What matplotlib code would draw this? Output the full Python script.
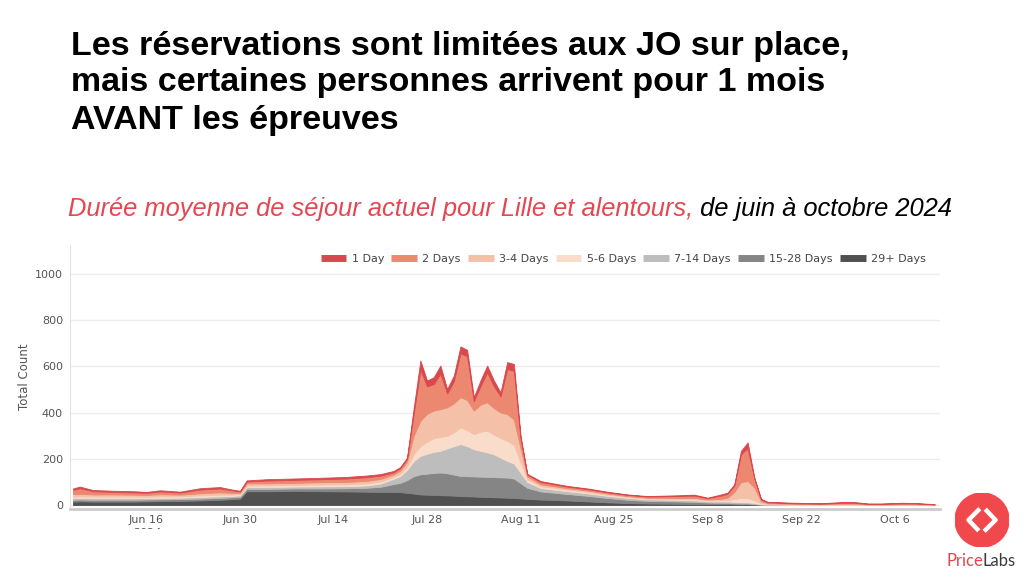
import matplotlib
matplotlib.use("Agg")
import matplotlib.pyplot as plt
from matplotlib.lines import Line2D
from matplotlib.patches import Circle
from matplotlib.transforms import Bbox, TransformedBbox
import pandas as pd

# days after 2024-06-05 at which the values below were read
day_offsets = [0, 1, 3, 6, 9, 11, 13, 16, 19, 22, 24, 25,
               26, 29, 33, 37, 41, 44, 46, 48, 49, 50, 51,
               52, 53, 54, 55, 56, 57, 58, 59, 60, 61, 62, 63, 64, 65, 66, 67, 68,
               70, 74, 77, 80, 83, 86, 90, 93, 95, 97, 98, 99, 100, 101, 102, 103, 104,
               108, 112, 115, 117, 119, 121, 124, 126, 129]

d29_plus = [15, 16, 15, 15, 15, 16, 17, 18, 20, 23, 26, 28,
            60, 60, 61, 60, 59, 58, 57, 57, 56, 53, 50,
            46, 45, 44, 43, 42, 41, 39, 38, 37, 36, 35, 34, 33, 32, 31, 29, 27,
            24, 20, 16, 12, 9, 7, 6, 5, 4, 4, 4, 3, 3, 3, 2, 1, 1,
            0, 0, 0, 0, 0, 0, 0, 0, 0]
d15_28 = [8, 8, 8, 8, 8, 8, 8, 8, 8, 8, 8, 8,
          10, 10, 11, 12, 14, 17, 22, 34, 40, 55, 75,
          87, 91, 95, 98, 96, 91, 87, 87, 87, 87, 87, 87, 87, 87, 84, 66, 48,
          35, 28, 24, 19, 14, 11, 10, 9, 7, 6, 6, 5, 4, 4, 3, 1, 1,
          1, 0, 1, 1, 0, 0, 0, 0, 0]
d7_14 = [7, 7, 7, 7, 7, 6, 6, 6, 7, 7, 6, 6,
         8, 8, 8, 9, 9, 10, 14, 23, 30, 45, 65,
         80, 86, 91, 94, 107, 123, 138, 130, 118, 112, 106, 99, 85, 72, 65, 45, 25,
         15, 12, 11, 9, 8, 7, 7, 7, 5, 6, 6, 6, 6, 5, 4, 2, 1,
         1, 1, 1, 1, 1, 1, 1, 1, 0]
d5_6 = [7, 7, 7, 7, 7, 6, 7, 6, 7, 7, 6, 5,
        7, 7, 7, 8, 8, 9, 9, 8, 10, 14, 30,
        43, 53, 60, 60, 55, 60, 72, 70, 65, 83, 94, 85, 85, 87, 80, 45, 12,
        8, 7, 6, 5, 4, 3, 4, 5, 4, 5, 6, 12, 18, 18, 12, 4, 2,
        1, 1, 1, 1, 1, 1, 1, 1, 1]
d3_4 = [10, 11, 9, 9, 8, 8, 9, 7, 9, 10, 7, 6,
        9, 9, 9, 10, 10, 11, 11, 10, 14, 20, 80,
        109, 120, 119, 120, 123, 125, 131, 130, 102, 117, 123, 115, 111, 116, 110, 60, 12,
        8, 6, 6, 5, 4, 4, 4, 5, 4, 6, 10, 30, 68, 74, 55, 8, 3,
        2, 2, 3, 3, 1, 1, 2, 2, 1]
d2 = [19, 24, 14, 11, 10, 9, 12, 9, 16, 17, 10, 6,
      8, 12, 13, 13, 15, 16, 14, 10, 10, 13, 95,
      221, 119, 115, 154, 60, 95, 190, 189, 40, 80, 129, 95, 69, 195, 211, 43, 8,
      10, 7, 6, 5, 5, 5, 8, 10, 6, 14, 17, 28, 121, 142, 38, 8, 4,
      3, 2, 4, 4, 2, 2, 3, 3, 1]
d1 = [6, 7, 5, 5, 5, 4, 5, 4, 6, 6, 3, 3,
      5, 6, 6, 6, 7, 7, 7, 6, 5, 5, 25,
      40, 25, 30, 35, 20, 25, 30, 28, 18, 25, 30, 25, 18, 30, 30, 12, 3,
      4, 3, 3, 3, 2, 2, 3, 4, 2, 5, 5, 6, 15, 25, 5, 3, 2,
      2, 2, 3, 3, 2, 2, 3, 2, 1]

series_names = ["1 Day", "2 Days", "3-4 Days", "5-6 Days", "7-14 Days", "15-28 Days", "29+ Days"]
series_colors = ["#d9484e", "#ec8770", "#f4c0a8", "#f9dcc9", "#bdbdbd", "#858585", "#505050"]

tick_dates = ["2024-06-16", "2024-06-30", "2024-07-14", "2024-07-28", "2024-08-11",
              "2024-08-25", "2024-09-08", "2024-09-22", "2024-10-06"]
tick_labels = ["Jun 16", "Jun 30", "Jul 14", "Jul 28", "Aug 11", "Aug 25", "Sep 8", "Sep 22", "Oct 6"]

title_lines = ["Les réservations sont limitées aux JO sur place,",
               "mais certaines personnes arrivent pour 1 mois",
               "AVANT les épreuves"]
subtitle_red = "Durée moyenne de séjour actuel pour Lille et alentours,"
subtitle_black = " de juin à octobre 2024"

W, H = 1024, 576
fig = plt.figure(figsize=(W / 100, H / 100), dpi=100)


def fx(px):
    return px / W


def fy(py):
    return 1 - py / H


for i, line in enumerate(title_lines):
    fig.text(fx(71), fy(46 + 37 * i), line, fontsize=24.5, fontweight="bold",
             family="Liberation Sans", va="center", ha="left", color="black")

t_red = fig.text(fx(68), fy(209), subtitle_red, fontsize=18.4, style="italic",
                 family="Liberation Sans", color="#e4474f", va="center", ha="left")
fig.canvas.draw()
bb = t_red.get_window_extent()
fig.text(bb.x1 / W, fy(209), subtitle_black, fontsize=18.4, style="italic",
         family="Liberation Sans", color="black", va="center", ha="left")

# chart
ax = fig.add_axes([fx(70), fy(509), fx(940) - fx(70), (509 - 245) / H])
start = pd.Timestamp("2024-06-05")
dates = start + pd.to_timedelta(day_offsets, unit="D")

stack = [d29_plus, d15_28, d7_14, d5_6, d3_4, d2, d1]
stack_colors = series_colors[::-1]
polys = ax.stackplot(dates, *stack, colors=stack_colors, linewidth=0.6)
for p, c in zip(polys, stack_colors):
    p.set_edgecolor(c)

ax.set_xlim(start - pd.Timedelta(hours=11), start + pd.Timedelta(days=129.8))
ax.set_ylim(-17, 1126)
ax.set_yticks([0, 200, 400, 600, 800, 1000])
ax.set_xticks(pd.to_datetime(tick_dates))
ax.set_xticklabels(tick_labels)
ax.tick_params(axis="both", length=0, labelsize=8, colors="#555555")
ax.tick_params(axis="x", pad=4)
ax.tick_params(axis="y", pad=5)
ax.grid(axis="y", color="#ededed", linewidth=1)
ax.set_axisbelow(True)
for s in ["top", "right"]:
    ax.spines[s].set_visible(False)
ax.spines["left"].set_color("#e2e2e2")
ax.spines["bottom"].set_color("#cccccc")
ax.spines["bottom"].set_linewidth(2)
ax.set_ylabel("Total Count", fontsize=8.5, color="#555555", labelpad=3)

# year under the first tick, cut off by the image edge
yr = fig.text(fx(147), fy(533), "2024", fontsize=8, color="#555555", ha="center", va="center")
yr.set_clip_box(TransformedBbox(Bbox([[0, fy(529)], [1, 1]]), fig.transFigure))

handles = [Line2D([], [], color=c, lw=5, solid_capstyle="butt") for c in series_colors]
ax.legend(handles, series_names, ncol=7, loc="center right",
          bbox_to_anchor=(fx(936), fy(259)), bbox_transform=fig.transFigure,
          frameon=False, fontsize=8, handlelength=2.3, handletextpad=0.5,
          columnspacing=0.65, labelcolor="#444444")

# PriceLabs logo
lax = fig.add_axes([fx(955), fy(547), 54 / W, 54 / H])
lax.set_xlim(-1, 1)
lax.set_ylim(-1, 1)
lax.axis("off")
lax.add_patch(Circle((0, 0), 1, color="#f0484d"))
lax.plot([-0.08, -0.5, -0.12], [0.42, 0.0, -0.4], color="white", lw=3.2, solid_capstyle="butt")
lax.plot([0.12, 0.5, 0.08], [0.4, 0.0, -0.42], color="white", lw=3.2, solid_capstyle="butt")

t_price = fig.text(fx(946), fy(561), "Price", fontsize=12, family="Lato",
                   color="#e0464c", va="center", ha="left")
fig.canvas.draw()
pb = t_price.get_window_extent()
fig.text(pb.x1 / W, fy(561), "Labs", fontsize=12, family="Lato",
         color="#3c3c3c", va="center", ha="left")

fig.savefig("out.png", dpi=100, facecolor="white")
